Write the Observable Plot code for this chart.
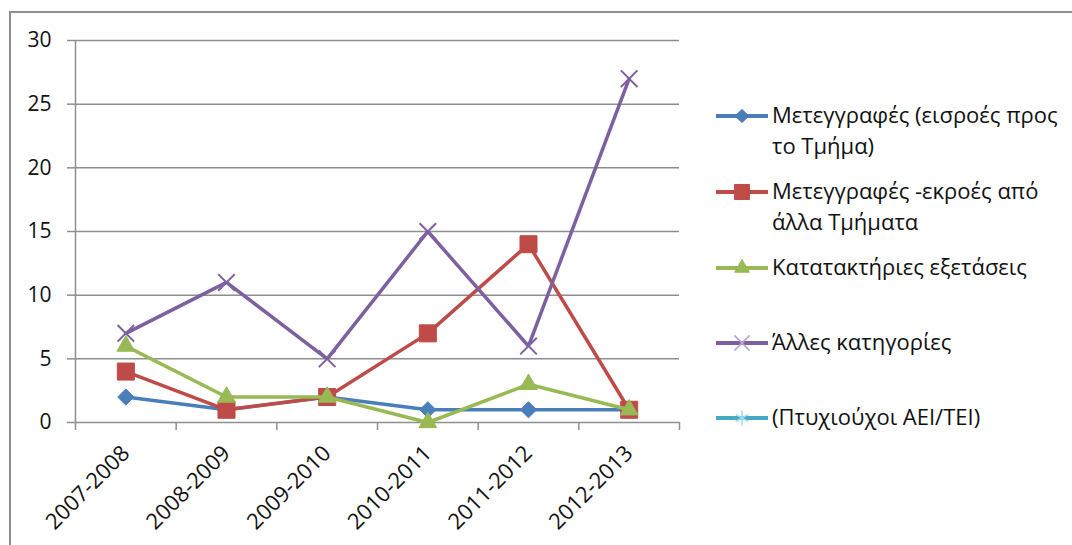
<!DOCTYPE html>
<html><head><meta charset="utf-8">
<script src="https://cdn.jsdelivr.net/npm/d3@7"></script>
<script src="https://cdn.jsdelivr.net/npm/@observablehq/plot@0.6"></script>
<style>
body{margin:0;background:#fff;}
#wrap{position:relative;width:1072px;height:545px;overflow:hidden;font-family:"Open Sans",sans-serif;background:#fff;}
#frame{position:absolute;left:9px;top:11px;width:1200px;height:700px;border-left:2px solid #8e8e8e;border-top:2px solid #8e8e8e;}
#chart{position:absolute;left:0;top:0;}
#legend{position:absolute;left:0;top:0;}
</style></head>
<body><div id="wrap"><div id="frame"></div><div id="chart"></div><svg id="legend" width="1072" height="545"></svg></div>
<script>
const years = ["2007-2008","2008-2009","2009-2010","2010-2011","2011-2012","2012-2013"];
const seriesNames = [
  "Μετεγγραφές (εισροές προς το Τμήμα)",
  "Μετεγγραφές -εκροές από άλλα Τμήματα",
  "Κατατακτήριες εξετάσεις",
  "Άλλες κατηγορίες",
  "(Πτυχιούχοι ΑΕΙ/ΤΕΙ)"
];
const legendLines = [
  ["Μετεγγραφές (εισροές προς","το Τμήμα)"],
  ["Μετεγγραφές -εκροές από","άλλα Τμήματα"],
  ["Κατατακτήριες εξετάσεις"],
  ["Άλλες κατηγορίες"],
  ["(Πτυχιούχοι ΑΕΙ/ΤΕΙ)"]
];
const transfersIn = [2,1,2,1,1,1];
const transfersOut = [4,1,2,7,14,1];
const placementExams = [6,2,2,0,3,1];
const otherCategories = [7,11,5,15,6,27];
const graduates = [];
const yTicks = [0,5,10,15,20,25,30];

const colors = ["#4a7ebb","#be4b48","#98b954","#7d60a0","#46aac5"];
const symbols = ["diamond2","square","triangle2","times","asterisk"];
const radii = [7.3,9.6,8.5,7.6,7.6];
const valuesList = [transfersIn, transfersOut, placementExams, otherCategories, graduates];

const rows = valuesList.map((vals,i)=>vals.map((v,j)=>({xi:j, year:years[j], v, s:seriesNames[i]})));
const boundaries = years.map((d,i)=>i-0.5).concat([years.length-0.5]);
const gray = "#8e8e8e";

const marks = [
  Plot.gridY(yTicks.filter(d=>d>0), {stroke:gray, strokeOpacity:1, strokeWidth:1.5}),
  Plot.ruleY([0], {stroke:gray, strokeWidth:1.5}),
  Plot.ruleX([-0.5], {stroke:gray, strokeWidth:1.5}),
  Plot.axisY({ticks:yTicks, tickSize:8, tickPadding:16, stroke:gray, strokeWidth:1.5, fontSize:21, fill:"#111", label:null}),
  Plot.axisX({ticks:boundaries, tickSize:8, tickFormat:()=>"", stroke:gray, strokeWidth:1.5, label:null}),
  Plot.axisX({ticks:years.map((d,i)=>i), tickSize:0, tickPadding:0, tickFormat:i=>years[i], tickRotate:-45, dx:0, dy:27, fontSize:22, fill:"#111", label:null})
];
rows.forEach((r,i)=>{
  if (!r.length) return;
  marks.push(Plot.line(r, {x:"xi", y:"v", stroke:colors[i], strokeWidth:3.5, strokeLinejoin:"miter"}));
  const filled = symbols[i] !== "times" && symbols[i] !== "asterisk";
  marks.push(Plot.dot(r, {x:"xi", y:"v", symbol:()=>symbols[i], r:radii[i],
    fill: filled ? colors[i] : "none", stroke:colors[i], strokeWidth: filled ? 1 : 2}));
});

const chart = Plot.plot({
  width:1072, height:545,
  marginLeft:75, marginRight:393, marginTop:40, marginBottom:123,
  x:{domain:[-0.5, years.length-0.5], axis:null},
  y:{domain:[0,30], axis:null},
  symbol:{type:"identity"},
  style:{fontFamily:"'Open Sans', sans-serif", background:"transparent", overflow:"visible"},
  marks
});
document.getElementById("chart").appendChild(chart);

// legend
const leg = d3.select("#legend");
const legY = [116,192,268,343,418];
const legSym = [d3.symbolDiamond2, d3.symbolSquare, d3.symbolTriangle2, d3.symbolTimes, d3.symbolAsterisk];
const legSize = [6, 8.5, 7, 7, 7];
const legColors = ["#4a7ebb","#be4b48","#98b954","#b9a5d3","#9fdcec"];
legendLines.forEach((lines,i)=>{
  const g = leg.append("g").attr("transform",`translate(0,${legY[i]})`);
  g.append("line").attr("x1",716).attr("x2",768).attr("y1",0).attr("y2",0)
    .attr("stroke",colors[i]).attr("stroke-width",4);
  const filled = i < 3;
  g.append("path").attr("transform","translate(742,0)")
    .attr("d", d3.symbol(legSym[i], Math.PI*legSize[i]*legSize[i])())
    .attr("fill", filled ? colors[i] : "none")
    .attr("stroke", legColors[i]).attr("stroke-width", filled ? 1 : 1.5);
  lines.forEach((t,k)=>{
    g.append("text").attr("x",772).attr("y",k*31).attr("dy","0.32em")
      .attr("font-family","'Open Sans', sans-serif").attr("font-size",22).attr("fill","#111").text(t);
  });
});
</script></body></html>
